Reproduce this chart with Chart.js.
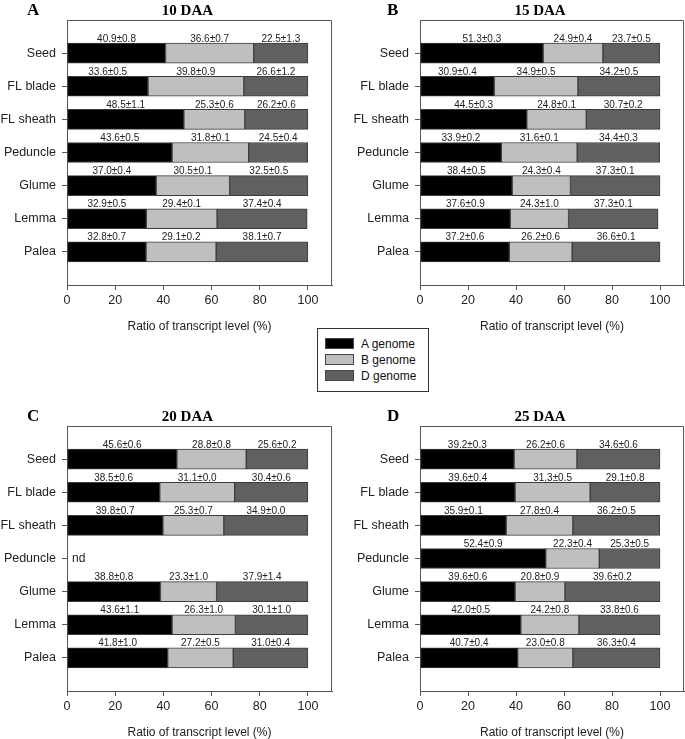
<!DOCTYPE html>
<html>
<head>
<meta charset="utf-8">
<script src="https://cdn.jsdelivr.net/npm/chart.js@4/dist/chart.umd.min.js"></script>
<style>
  body { margin: 0; background: #fff; width: 685px; height: 739px; overflow: hidden; position: relative; font-family: "Liberation Sans", Arial, sans-serif; }
  canvas { position: absolute; }
  #legend { position: absolute; left: 317px; top: 328px; width: 110px; height: 62px; border: 1px solid #333; background: #fff; }
  #legend div { position: absolute; left: 7px; height: 14px; font-size: 12px; line-height: 14px; color: #111; }
  #legend span { display: inline-block; width: 27px; height: 9px; border: 1px solid #444; vertical-align: -1px; margin-right: 7px; }
</style>
</head>
<body>
<canvas id="pA" width="342" height="333" style="left:0;top:0"></canvas>
<canvas id="pB" width="332" height="333" style="left:353px;top:0"></canvas>
<canvas id="pC" width="342" height="333" style="left:0;top:406px"></canvas>
<canvas id="pD" width="332" height="333" style="left:353px;top:406px"></canvas>
<div id="legend"></div>
<script>
const organs = ['Seed', 'FL blade', 'FL sheath', 'Peduncle', 'Glume', 'Lemma', 'Palea'];
const genomes = ['A genome', 'B genome', 'D genome'];
const genomeColors = ['#000000', '#bfbfbf', '#606060'];
const xTicks = [0, 20, 40, 60, 80, 100];

// 10 DAA
const daa10A = [40.9, 33.6, 48.5, 43.6, 37.0, 32.9, 32.8];
const daa10Asd = [0.8, 0.5, 1.1, 0.5, 0.4, 0.5, 0.7];
const daa10B = [36.6, 39.8, 25.3, 31.8, 30.5, 29.4, 29.1];
const daa10Bsd = [0.7, 0.9, 0.6, 0.1, 0.1, 0.1, 0.2];
const daa10D = [22.5, 26.6, 26.2, 24.5, 32.5, 37.4, 38.1];
const daa10Dsd = [1.3, 1.2, 0.6, 0.4, 0.5, 0.4, 0.7];

// 15 DAA
const daa15A = [51.3, 30.9, 44.5, 33.9, 38.4, 37.6, 37.2];
const daa15Asd = [0.3, 0.4, 0.3, 0.2, 0.5, 0.9, 0.6];
const daa15B = [24.9, 34.9, 24.8, 31.6, 24.3, 24.3, 26.2];
const daa15Bsd = [0.4, 0.5, 0.1, 0.1, 0.4, 1.0, 0.6];
const daa15D = [23.7, 34.2, 30.7, 34.4, 37.3, 37.3, 36.6];
const daa15Dsd = [0.5, 0.5, 0.2, 0.3, 0.1, 0.1, 0.1];

// 20 DAA (peduncle not detected)
const daa20A = [45.6, 38.5, 39.8, null, 38.8, 43.6, 41.8];
const daa20Asd = [0.6, 0.6, 0.7, null, 0.8, 1.1, 1.0];
const daa20B = [28.8, 31.1, 25.3, null, 23.3, 26.3, 27.2];
const daa20Bsd = [0.8, 0.0, 0.7, null, 1.0, 1.0, 0.5];
const daa20D = [25.6, 30.4, 34.9, null, 37.9, 30.1, 31.0];
const daa20Dsd = [0.2, 0.6, 0.0, null, 1.4, 1.0, 0.4];

// 25 DAA
const daa25A = [39.2, 39.6, 35.9, 52.4, 39.6, 42.0, 40.7];
const daa25Asd = [0.3, 0.4, 0.1, 0.9, 0.6, 0.5, 0.4];
const daa25B = [26.2, 31.3, 27.8, 22.3, 20.8, 24.2, 23.0];
const daa25Bsd = [0.6, 0.5, 0.4, 0.4, 0.9, 0.8, 0.8];
const daa25D = [34.6, 29.1, 36.2, 25.3, 39.6, 33.8, 36.3];
const daa25Dsd = [0.6, 0.8, 0.5, 0.5, 0.2, 0.6, 0.4];

Chart.defaults.font.family = '"Liberation Sans", Arial, sans-serif';
Chart.defaults.color = '#222';

const axisColor = '#555';

// text on top of the segments, box outline, titles
const panelPlugin = {
    id: 'panelPlugin',
    afterDatasetsDraw(chart, args, opts) {
        const ctx = chart.ctx;
        const area = chart.chartArea;
        const xs = chart.scales.x;
        const ys = chart.scales.y;
        ctx.save();

        // value labels
        ctx.font = '10px "Liberation Sans", Arial, sans-serif';
        ctx.fillStyle = '#222';
        ctx.textAlign = 'center';
        ctx.textBaseline = 'alphabetic';
        chart.data.datasets.forEach((ds, di) => {
            const meta = chart.getDatasetMeta(di);
            meta.data.forEach((el, i) => {
                if (ds.data[i] == null) return;
                const p = el.getProps(['x', 'base', 'y', 'height'], true);
                const txt = ds.data[i].toFixed(1) + '\u00b1' + ds.sd[i].toFixed(1);
                ctx.fillText(txt, (p.x + p.base) / 2, p.y - p.height / 2 - 1.5);
            });
        });

        // missing rows
        ctx.font = '12px "Liberation Sans", Arial, sans-serif';
        ctx.textAlign = 'left';
        ctx.textBaseline = 'middle';
        organs.forEach((o, i) => {
            if (chart.data.datasets[0].data[i + 1] == null) {
                ctx.fillText('nd', area.left + 5, ys.getPixelForValue(i + 1));
            }
        });

        // top and right edges of the box
        ctx.strokeStyle = axisColor;
        ctx.lineWidth = 1;
        ctx.beginPath();
        ctx.moveTo(Math.round(area.left) + 0.5, Math.round(area.top) + 0.5);
        ctx.lineTo(Math.round(area.right) - 0.5, Math.round(area.top) + 0.5);
        ctx.lineTo(Math.round(area.right) - 0.5, Math.round(area.bottom));
        ctx.stroke();

        // panel letter and title
        ctx.fillStyle = '#000';
        ctx.textBaseline = 'middle';
        ctx.textAlign = 'left';
        ctx.font = 'bold 17px "Liberation Serif", "Times New Roman", serif';
        ctx.fillText(opts.letter, opts.letterX, area.top - 9);
        ctx.textAlign = 'center';
        ctx.font = 'bold 15px "Liberation Serif", "Times New Roman", serif';
        ctx.fillText(opts.title, xs.getPixelForValue(50), area.top - 9);

        // axis title
        ctx.fillStyle = '#222';
        ctx.font = '12px "Liberation Sans", Arial, sans-serif';
        ctx.fillText('Ratio of transcript level (%)', (area.left + area.right) / 2, area.bottom + 42);
        ctx.restore();
    }
};

function makePanel(id, letter, letterX, title, aVals, aSd, bVals, bSd, dVals, dSd, padRight) {
    const pad = arr => [null, ...arr, null];
    const series = [[aVals, aSd], [bVals, bSd], [dVals, dSd]];
    return new Chart(document.getElementById(id), {
        type: 'bar',
        data: {
            labels: ['', ...organs, ''],
            datasets: series.map((s, k) => ({
                label: genomes[k],
                data: pad(s[0]),
                sd: pad(s[1]),
                backgroundColor: genomeColors[k],
                borderColor: '#3c3c3c',
                borderWidth: 1,
                borderSkipped: false,
                barThickness: 20
            }))
        },
        options: {
            indexAxis: 'y',
            responsive: false,
            animation: false,
            layout: { padding: { left: 0, top: 20, right: padRight, bottom: 0 } },
            plugins: {
                legend: { display: false },
                tooltip: { enabled: false },
                panelPlugin: { letter: letter, letterX: letterX, title: title }
            },
            scales: {
                x: {
                    type: 'linear',
                    stacked: true,
                    min: 0,
                    max: 110,
                    afterBuildTicks: s => { s.ticks = xTicks.map(v => ({ value: v })); },
                    afterFit: s => { s.height = 48; },
                    grid: { drawOnChartArea: false, tickLength: 5, tickColor: axisColor },
                    border: { color: axisColor, width: 1 },
                    ticks: { font: { size: 12.5 }, color: '#222', padding: 3, maxRotation: 0 }
                },
                y: {
                    type: 'category',
                    stacked: true,
                    offset: false,
                    afterFit: s => { s.width = 67; },
                    grid: {
                        offset: false,
                        drawOnChartArea: false,
                        tickLength: 5,
                        tickColor: c => (c.index === 0 || c.index === organs.length + 1) ? 'rgba(0,0,0,0)' : axisColor
                    },
                    border: { color: axisColor, width: 1 },
                    ticks: { font: { size: 12.5 }, color: '#222', padding: 6, autoSkip: false }
                }
            }
        },
        plugins: [panelPlugin]
    });
}

makePanel('pA', 'A', 27, '10 DAA', daa10A, daa10Asd, daa10B, daa10Bsd, daa10D, daa10Dsd, 10);
makePanel('pB', 'B', 34, '15 DAA', daa15A, daa15Asd, daa15B, daa15Bsd, daa15D, daa15Dsd, 1);
makePanel('pC', 'C', 27, '20 DAA', daa20A, daa20Asd, daa20B, daa20Bsd, daa20D, daa20Dsd, 10);
makePanel('pD', 'D', 34, '25 DAA', daa25A, daa25Asd, daa25B, daa25Bsd, daa25D, daa25Dsd, 1);

// shared legend
const legend = document.getElementById('legend');
genomes.forEach((g, k) => {
    const row = document.createElement('div');
    row.style.top = (8 + k * 16) + 'px';
    row.innerHTML = '<span style="background:' + genomeColors[k] + '"></span>' + g;
    legend.appendChild(row);
});
</script>
</body>
</html>
